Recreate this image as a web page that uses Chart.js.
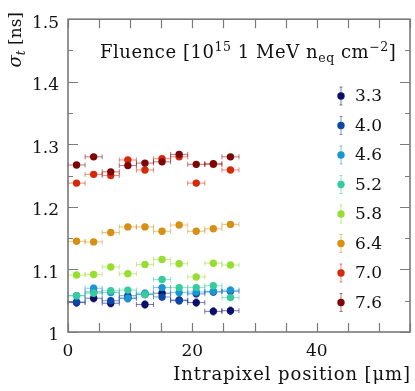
<!DOCTYPE html>
<html><head><meta charset="utf-8">
<script src="https://cdn.jsdelivr.net/npm/chart.js@4/dist/chart.umd.min.js"></script>
<style>html,body{margin:0;padding:0;background:#fff}#wrap{width:415px;height:391px}</style>
</head><body><div id="wrap"><canvas id="c" width="415" height="391"></canvas></div>
<script>
// ---- data ----
const xPositions = [1.375, 4.125, 6.875, 9.625, 12.375, 15.125, 17.875, 20.625, 23.375, 26.125];
const xHalfWidth = 1.375;
const fluenceLabels = ['3.3', '4.0', '4.6', '5.2', '5.8', '6.4', '7.0', '7.6'];
const sigma33 = [1.047, 1.054, 1.046, 1.054, 1.044, 1.062, 1.051, 1.047, 1.033, 1.034];
const sigma40 = [1.048, 1.064, 1.050, 1.058, 1.060, 1.056, 1.050, 1.061, 1.064, 1.065];
const sigma46 = [1.058, 1.070, 1.063, 1.054, 1.062, 1.071, 1.063, 1.064, 1.065, 1.067];
const sigma52 = [1.058, 1.062, 1.066, 1.067, 1.060, 1.084, 1.071, 1.071, 1.074, 1.055];
const sigma58 = [1.091, 1.092, 1.104, 1.093, 1.108, 1.116, 1.109, 1.088, 1.110, 1.107];
const sigma64 = [1.145, 1.144, 1.159, 1.168, 1.168, 1.161, 1.171, 1.161, 1.165, 1.172];
const sigma70 = [1.238, 1.252, 1.250, 1.275, 1.259, 1.277, 1.280, 1.238, 1.268, 1.259];
const sigma76 = [1.267, 1.280, 1.256, 1.266, 1.270, 1.272, 1.284, 1.268, 1.269, 1.280];
const sigmaErrors = [0.006, 0.005, 0.005, 0.004, 0.004, 0.004, 0.004, 0.004];
const yTickValues = [1, 1.1, 1.2, 1.3, 1.4, 1.5];
const xTickValues = [0, 20, 40];
const xTitle = 'Intrapixel position [\u03bcm]';

const seriesValues = [sigma33, sigma40, sigma46, sigma52, sigma58, sigma64, sigma70, sigma76];
const colors = ['#0a0f6b', '#0d47a6', '#1997d3', '#37cba0', '#98dd31', '#d78f14', '#d6290c', '#7e0506'];
const barColors = ['rgba(10,15,107,0.55)', 'rgba(13,71,166,0.55)', 'rgba(25,151,211,0.55)', 'rgba(55,203,160,0.55)', 'rgba(152,221,49,0.55)', 'rgba(215,143,20,0.55)', 'rgba(214,41,12,0.55)', 'rgba(126,5,6,0.55)'];

const FONT = '"DejaVu Serif", "Liberation Serif", serif';
Chart.defaults.font.family = FONT;
Chart.defaults.font.size = 17;
Chart.defaults.color = '#111';

const datasets = fluenceLabels.map((lab, i) => ({
  label: lab,
  data: xPositions.map((x, j) => ({x: x, y: seriesValues[i][j]})),
  yErr: sigmaErrors[i],
  showLine: false,
  pointRadius: 3.7,
  pointHoverRadius: 3.7,
  pointBackgroundColor: colors[i],
  pointBorderColor: colors[i],
  pointBorderWidth: 0,
  barColor: barColors[i],
  order: fluenceLabels.length - i
}));

const errorBars = {
  id: 'errorBars',
  beforeDatasetsDraw(chart) {
    const {ctx, scales: {x, y}} = chart;
    ctx.save();
    ctx.lineWidth = 1;
    chart.data.datasets.forEach(ds => {
      ctx.strokeStyle = ds.barColor;
      ds.data.forEach(p => {
        const px = x.getPixelForValue(p.x), py = y.getPixelForValue(p.y);
        const x1 = x.getPixelForValue(p.x - xHalfWidth), x2 = x.getPixelForValue(p.x + xHalfWidth);
        const y1 = y.getPixelForValue(p.y - ds.yErr), y2 = y.getPixelForValue(p.y + ds.yErr);
        ctx.beginPath();
        ctx.moveTo(x1, py); ctx.lineTo(x2, py);
        ctx.moveTo(x1, py - 2.5); ctx.lineTo(x1, py + 2.5);
        ctx.moveTo(x2, py - 2.5); ctx.lineTo(x2, py + 2.5);
        ctx.moveTo(px, y1); ctx.lineTo(px, y2);
        ctx.moveTo(px - 1.5, y1); ctx.lineTo(px + 1.5, y1);
        ctx.moveTo(px - 1.5, y2); ctx.lineTo(px + 1.5, y2);
        ctx.stroke();
      });
    });
    ctx.restore();
  }
};

const frame = {
  id: 'frame',
  afterDatasetsDraw(chart) {
    const {ctx, chartArea: a, scales: {x, y}} = chart;
    ctx.save();
    ctx.strokeStyle = '#7a7a7a';
    ctx.lineWidth = 1.6;
    ctx.strokeRect(a.left, a.top, a.right - a.left, a.bottom - a.top);
    ctx.lineWidth = 1.2;
    ctx.beginPath();
    for (let v = y.min; v <= y.max + 1e-9; v += 0.05) {
      const py = Math.round(y.getPixelForValue(v)) + 0.5;
      const major = Math.abs(v * 10 - Math.round(v * 10)) < 1e-6;
      const L = major ? 10 : 5;
      ctx.moveTo(a.left, py); ctx.lineTo(a.left + L, py);
      ctx.moveTo(a.right, py); ctx.lineTo(a.right - L, py);
    }
    for (let v = x.min; v <= x.max + 1e-9; v += 5) {
      const px = Math.round(x.getPixelForValue(v)) + 0.5;
      const L = 9;
      ctx.moveTo(px, a.bottom); ctx.lineTo(px, a.bottom - L);
      ctx.moveTo(px, a.top); ctx.lineTo(px, a.top + L);
    }
    ctx.stroke();
    ctx.restore();
  }
};

function drawRuns(ctx, x, y, runs) {
  runs.forEach(r => {
    ctx.font = (r.italic ? 'italic ' : '') + r.size + 'px ' + FONT;
    ctx.fillText(r.t, x, y + (r.dy || 0));
    x += ctx.measureText(r.t).width;
  });
  return x;
}
function runsWidth(ctx, runs) {
  let w = 0;
  runs.forEach(r => { ctx.font = (r.italic ? 'italic ' : '') + r.size + 'px ' + FONT; w += ctx.measureText(r.t).width; });
  return w;
}

const legendAndTitles = {
  id: 'legendAndTitles',
  afterDraw(chart) {
    const {ctx, chartArea: a} = chart;
    ctx.save();
    ctx.fillStyle = '#111';
    ctx.textBaseline = 'alphabetic';
    // legend header
    ctx.letterSpacing = '0.55px';
    const head = [
      {t: 'Fluence [10', size: 18},
      {t: '15', size: 12.5, dy: -7},
      {t: ' 1 MeV n', size: 18},
      {t: 'eq', size: 12.5, dy: 4},
      {t: ' cm', size: 18},
      {t: '\u22122', size: 12.5, dy: -7},
      {t: ']', size: 18}
    ];
    drawRuns(ctx, 100, 58, head);
    // x title
    ctx.letterSpacing = '0.9px';
    ctx.font = '18px ' + FONT;
    ctx.textAlign = 'right';
    ctx.fillText(xTitle, a.right + 1, 380);
    ctx.textAlign = 'left';
    ctx.letterSpacing = '0px';
    // legend entries
    chart.data.datasets.forEach((ds, i) => {
      const cy = 96 + i * 29.5;
      const cx = 341;
      ctx.strokeStyle = ds.barColor;
      ctx.lineWidth = 1;
      ctx.beginPath();
      ctx.moveTo(cx, cy - 9); ctx.lineTo(cx, cy + 9);
      ctx.moveTo(cx - 1.5, cy - 9); ctx.lineTo(cx + 1.5, cy - 9);
      ctx.moveTo(cx - 1.5, cy + 9); ctx.lineTo(cx + 1.5, cy + 9);
      ctx.stroke();
      ctx.fillStyle = colors[i];
      ctx.beginPath(); ctx.arc(cx, cy, 3.7, 0, Math.PI * 2); ctx.fill();
      ctx.fillStyle = '#111';
      ctx.font = '17px ' + FONT;
      ctx.textBaseline = 'middle';
      ctx.fillText(ds.label, 355, cy + 1);
      ctx.textBaseline = 'alphabetic';
    });
    // y title (rotated)
    ctx.translate(21, 12);
    ctx.rotate(-Math.PI / 2);
    const yt = [
      {t: '\u03c3', size: 18, italic: true},
      {t: 't', size: 12, italic: true, dy: 4},
      {t: ' [ns]', size: 17}
    ];
    const w = runsWidth(ctx, yt);
    drawRuns(ctx, -w, 0, yt);
    ctx.restore();
  }
};

new Chart(document.getElementById('c'), {
  type: 'scatter',
  data: {datasets},
  options: {
    responsive: false,
    animation: false,
    devicePixelRatio: 1,
    layout: {padding: {left: 0, right: 5, top: 11, bottom: 0}},
    plugins: {legend: {display: false}, tooltip: {enabled: false}},
    scales: {
      x: {
        type: 'linear', min: 0, max: 55,
        grid: {display: false, drawTicks: false},
        border: {display: false},
        afterBuildTicks: s => { s.ticks = xTickValues.map(v => ({value: v})); },
        ticks: {padding: 9, maxRotation: 0, font: {size: 17}, color: '#111'},
        title: {display: false},
        afterFit: s => { s.height = 59; }
      },
      y: {
        type: 'linear', min: 1, max: 1.5,
        grid: {display: false, drawTicks: false},
        border: {display: false},
        afterBuildTicks: s => { s.ticks = yTickValues.map(v => ({value: v})); },
        ticks: {padding: 9, labelOffset: 4, font: {size: 17}, color: '#111', callback: v => String(+v.toFixed(1))},
        afterFit: s => { s.width = 68; }
      }
    }
  },
  plugins: [errorBars, frame, legendAndTitles]
});
</script>
</body></html>
